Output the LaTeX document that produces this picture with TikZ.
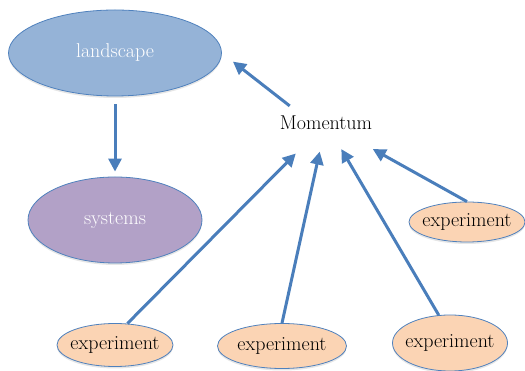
\documentclass[tikz,border=0pt]{standalone}
\usetikzlibrary{arrows.meta,shapes.geometric,shadows}
\definecolor{edgeblue}{HTML}{4F81BD}
\definecolor{arrblue}{HTML}{4A7EBB}
\definecolor{landblue}{HTML}{95B3D7}
\definecolor{syspurple}{HTML}{B2A1C7}
\definecolor{peach}{HTML}{FBD4B4}
\begin{document}
\begin{tikzpicture}[>={Triangle[length=13pt,width=13pt]},x=1pt,y=1pt,font=\rmfamily\fontsize{20}{24}\selectfont,
    bubble/.style={ellipse,draw=edgeblue,line width=0.8pt,inner sep=0pt,
        drop shadow={shadow xshift=0pt,shadow yshift=-2pt,opacity=0.2}},
    expnode/.style={bubble,fill=peach,inner xsep=-14pt},
    arr/.style={->,draw=arrblue,line width=3pt}]
    \useasboundingbox (0,0) rectangle (525,371);
    % the two big bubbles on the left
    \node[bubble,fill=landblue,text=white,minimum width=213pt,minimum height=86pt] (land) at (115,318) {landscape};
    \node[bubble,fill=syspurple,text=white,minimum width=174pt,minimum height=86pt] (sys) at (115,151) {systems};
    \node[inner sep=0pt] (mom) at (326,248) {Momentum};
    % experiments
    \node[expnode,minimum width=116pt,minimum height=40pt] (expr) at (467,149) {experiment};
    \node[expnode,minimum width=116pt,minimum height=43pt] (expbl) at (115,26) {experiment};
    \node[expnode,minimum width=129pt,minimum height=45pt] (expm) at (282,25) {experiment};
    \node[expnode,minimum width=115pt,minimum height=56pt] (expbr) at (450,28) {experiment};
    % arrows
    \draw[arr,shorten <=8pt,shorten >=5pt] (land) -- (sys);
    \draw[arr,shorten >=14pt] ([shift={(10pt,10pt)}]mom.north west) -- (land.east);
    \draw[arr,shorten >=33pt] (expbl.60) -- (mom);
    \draw[arr,shorten >=22pt] (expm.north) -- (mom);
    \draw[arr,shorten >=22pt] (expbr.112) -- (mom);
    \draw[arr,shorten >=39pt] (expr.north) -- (mom);
\end{tikzpicture}
\end{document}
